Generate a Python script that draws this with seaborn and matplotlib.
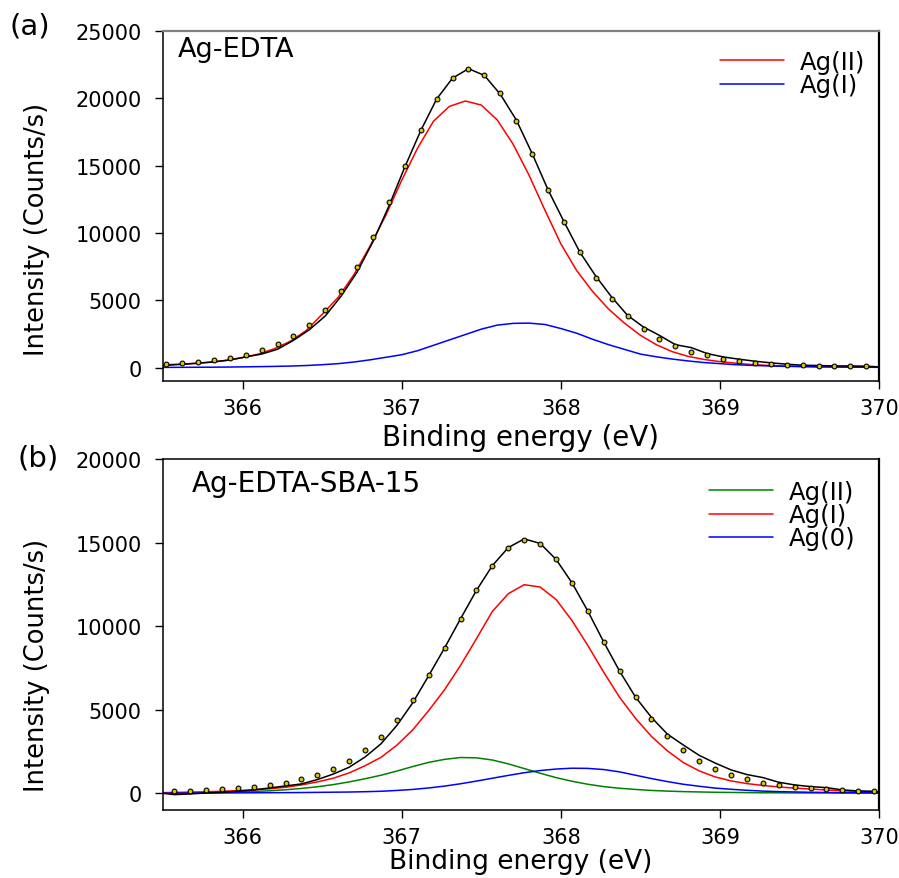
import numpy as np
import pandas as pd
import matplotlib
matplotlib.use("Agg")
import matplotlib.pyplot as plt
import seaborn as sns
from matplotlib.lines import Line2D

# ---------------- data ----------------
# panel (a): Ag-EDTA
a_pts_x = [365.52, 365.62, 365.72, 365.82, 365.92, 366.02, 366.12, 366.22, 366.32, 366.42,
           366.52, 366.62, 366.72, 366.82, 366.92, 367.02, 367.12, 367.22, 367.32, 367.42,
           367.52, 367.62, 367.72, 367.82, 367.92, 368.02, 368.12, 368.22, 368.32, 368.42,
           368.52, 368.62, 368.72, 368.82, 368.92, 369.02, 369.12, 369.22, 369.32, 369.42,
           369.52, 369.62, 369.72, 369.82, 369.92]
a_pts_y = [250, 350, 420, 540, 720, 960, 1280, 1730, 2350, 3160,
           4270, 5680, 7460, 9680, 12270, 14990, 17650, 19930, 21530, 22150,
           21700, 20370, 18320, 15850, 13210, 10840, 8570, 6640, 5060, 3830,
           2890, 2150, 1580, 1160, 910, 670, 490, 370, 270, 220,
           170, 150, 150, 120, 120]
a_fit_x = [365.50] + a_pts_x + [370.00]
a_fit_y = [150, 170, 240, 320, 420, 560, 790, 1000, 1360, 2020, 2810,
           3830, 5310, 7090, 9360, 12000, 14900, 17600, 19950, 21500, 22200,
           21700, 20300, 18400, 15900, 13200, 10840, 8570, 6790, 5230, 3870,
           3010, 2390, 1700, 1480, 1040, 790, 620, 470, 350, 250,
           170, 150, 120, 120, 100, 50]
a_comp_x = [365.5, 365.6, 365.7, 365.8, 365.9, 366.0, 366.1, 366.2, 366.3, 366.4,
            366.5, 366.6, 366.7, 366.8, 366.9, 367.0, 367.1, 367.2, 367.3, 367.4,
            367.5, 367.6, 367.7, 367.8, 367.9, 368.0, 368.1, 368.2, 368.3, 368.4,
            368.5, 368.6, 368.7, 368.8, 368.9, 369.0, 369.1, 369.2, 369.3, 369.4,
            369.5, 369.6, 369.7, 369.8, 369.9, 370.0]
a_ag2_y = [200, 250, 310, 400, 540, 740, 1000, 1400, 1950, 2750,
           3950, 5200, 6900, 9000, 11300, 13900, 16300, 18300, 19400, 19800,
           19500, 18400, 16600, 14300, 11700, 9200, 7200, 5650, 4350, 3300,
           2400, 1700, 1180, 830, 600, 440, 320, 220, 160, 120,
           90, 70, 60, 50, 40, 30]
a_ag1_y = [10, 15, 20, 25, 35, 50, 65, 85, 110, 150,
           210, 290, 410, 570, 760, 950, 1250, 1650, 2050, 2450,
           2850, 3150, 3280, 3300, 3200, 2900, 2550, 2100, 1700, 1350,
           1000, 800, 630, 490, 370, 290, 210, 160, 120, 90,
           70, 50, 40, 30, 20, 15]

# panel (b): Ag-EDTA-SBA-15
b_pts_x = [365.57, 365.67, 365.77, 365.87, 365.97, 366.07, 366.17, 366.27, 366.37, 366.47,
           366.57, 366.67, 366.77, 366.87, 366.97, 367.07, 367.17, 367.27, 367.37, 367.47,
           367.57, 367.67, 367.77, 367.87, 367.97, 368.07, 368.17, 368.27, 368.37, 368.47,
           368.57, 368.67, 368.77, 368.87, 368.97, 369.07, 369.17, 369.27, 369.37, 369.47,
           369.57, 369.67, 369.77, 369.87, 369.97]
b_pts_y = [140, 160, 200, 240, 320, 400, 500, 640, 840, 1120,
           1480, 1940, 2560, 3340, 4380, 5600, 7080, 8700, 10440, 12140,
           13620, 14700, 15180, 14920, 14000, 12580, 10880, 9040, 7300, 5740,
           4440, 3400, 2580, 1940, 1480, 1100, 840, 640, 480, 400,
           300, 240, 180, 160, 140]
b_comp_x = [365.50] + b_pts_x + [370.00]
b_fit_y = [0, -80, -40, 20, 60, 120, 200, 320, 440, 560, 820,
           1150, 1560, 2170, 2960, 4060, 5420, 7040, 8700, 10440, 12140,
           13620, 14700, 15220, 14950, 14000, 12600, 10900, 9050, 7300, 5750,
           4540, 3540, 2890, 2270, 1810, 1400, 1120, 940, 660, 500,
           400, 340, 200, 140, 120, 80]
b_ag2_y = [0, 20, 30, 40, 60, 80, 110, 150, 210, 290, 390,
           520, 680, 870, 1080, 1330, 1600, 1850, 2030, 2140, 2120,
           1990, 1760, 1480, 1200, 940, 720, 540, 400, 300, 230,
           170, 130, 100, 80, 60, 50, 40, 30, 30, 20,
           20, 20, 15, 15, 10, 10]
b_ag1_y = [40, 50, 70, 90, 120, 160, 210, 270, 360, 500, 680,
           900, 1220, 1650, 2150, 2880, 3800, 4950, 6200, 7650, 9250,
           10880, 11940, 12480, 12340, 11600, 10340, 8840, 7240, 5740, 4480,
           3400, 2540, 1840, 1340, 980, 740, 580, 470, 380, 310,
           250, 200, 150, 110, 70, 60]
b_ag0_y = [0, 10, 10, 15, 20, 25, 30, 35, 40, 45, 55,
           65, 75, 95, 120, 170, 230, 320, 430, 570, 730,
           900, 1070, 1230, 1360, 1450, 1500, 1490, 1420, 1280, 1080,
           880, 700, 540, 420, 310, 240, 180, 130, 100, 80,
           60, 50, 40, 30, 30, 25]

x_ticks = [366, 367, 368, 369, 370]
a_yticks = [0, 5000, 10000, 15000, 20000, 25000]
b_yticks = [0, 5000, 10000, 15000, 20000]

# ---------------- style ----------------
sns.set_style("ticks")
plt.rcParams['font.family'] = ['DejaVu Sans']
plt.rcParams['text.color'] = 'black'
plt.rcParams['axes.labelcolor'] = 'black'
plt.rcParams['xtick.color'] = 'black'
plt.rcParams['ytick.color'] = 'black'

W, H = 899, 879
fig = plt.figure(figsize=(W / 100, H / 100), dpi=100)
ax1 = fig.add_axes([163 / W, 1 - 382 / H, 716 / W, 350 / H])
ax2 = fig.add_axes([163 / W, 1 - 811 / H, 716 / W, 351 / H])

LW = 1.1
DOT_FC = '#d6c800'


def draw(ax, comps, fit_x, fit_y, pts_x, pts_y):
    for (cx, cy, col, lab) in comps:
        sns.lineplot(x=cx, y=cy, ax=ax, color=col, lw=LW, sort=False,
                     estimator=None, legend=False)
    sns.lineplot(x=fit_x, y=fit_y, ax=ax, color='black', lw=LW, sort=False,
                 estimator=None, legend=False)
    sns.scatterplot(x=pts_x, y=pts_y, ax=ax, s=12, color=DOT_FC,
                    edgecolor='black', linewidth=0.8, zorder=5, legend=False)


draw(ax1,
     [(a_comp_x, a_ag2_y, '#ff0000', 'Ag(II)'),
      (a_comp_x, a_ag1_y, '#0000ff', 'Ag(I)')],
     a_fit_x, a_fit_y, a_pts_x, a_pts_y)
draw(ax2,
     [(b_comp_x, b_ag2_y, '#008000', 'Ag(II)'),
      (b_comp_x, b_ag1_y, '#ff0000', 'Ag(I)'),
      (b_comp_x, b_ag0_y, '#0000ff', 'Ag(0)')],
     b_comp_x, b_fit_y, b_pts_x, b_pts_y)

for ax, yt, ylim in [(ax1, a_yticks, (-1000, 25000)), (ax2, b_yticks, (-1000, 20000))]:
    ax.set_xlim(365.5, 370)
    ax.set_ylim(*ylim)
    ax.set_xticks(x_ticks)
    ax.set_xticklabels([str(t) for t in x_ticks])
    ax.set_yticks(yt)
    ax.set_yticklabels([str(t) for t in yt])
    ax.tick_params(axis='both', direction='out', length=6, width=1.0,
                   labelsize=15, colors='black')
    ax.tick_params(axis='y', pad=9.5)
    ax.tick_params(axis='x', pad=6.5)
    for s in ax.spines.values():
        s.set_visible(True)
        s.set_color('black')
        s.set_linewidth(1.1)
    ax.spines['right'].set_linewidth(1.6)
    ax.set_ylabel('Intensity (Counts/s)', fontsize=18.5, va='center')

ax1.set_xlabel('Binding energy (eV)', fontsize=20, va='center')
ax2.set_xlabel('Binding energy (eV)', fontsize=19, va='center')

ax1.spines['top'].set_color('#808080')
ax1.spines['top'].set_linewidth(1.6)

ax1.xaxis.set_label_coords(0.5, (382 - 438) / 350)
ax2.xaxis.set_label_coords(0.5, (811 - 862) / 351)
ax1.yaxis.set_label_coords((37 - 163) / 716, (382 - 229) / 350)
ax2.yaxis.set_label_coords((37 - 163) / 716, (811 - 665) / 351)

ax1.text((178 - 163) / 716, (382 - 50) / 350, 'Ag-EDTA', transform=ax1.transAxes,
         fontsize=19.5, ha='left', va='center')
ax2.text((192 - 163) / 716, (811 - 484) / 351, 'Ag-EDTA-SBA-15', transform=ax2.transAxes,
         fontsize=20, ha='left', va='center')

fig.text(10 / W, 1 - 27 / H, '(a)', fontsize=21, ha='left', va='center')
fig.text(17 / W, 1 - 459 / H, '(b)', fontsize=21, ha='left', va='center')

leg_kw = dict(frameon=False, fontsize=17.5, handlelength=2.63, handletextpad=0.66,
              labelspacing=-0.04, borderpad=0, borderaxespad=0, loc='upper left')
h1 = [Line2D([], [], color='#ff0000', lw=LW), Line2D([], [], color='#0000ff', lw=LW)]
ax1.legend(h1, ['Ag(II)', 'Ag(I)'], bbox_to_anchor=((720 - 163) / 716, (382 - 51) / 350), **leg_kw)
h2 = [Line2D([], [], color='#008000', lw=LW), Line2D([], [], color='#ff0000', lw=LW),
      Line2D([], [], color='#0000ff', lw=LW)]
ax2.legend(h2, ['Ag(II)', 'Ag(I)', 'Ag(0)'], bbox_to_anchor=((709 - 163) / 716, (811 - 481) / 351), **leg_kw)

fig.savefig('out.png', dpi=100)
